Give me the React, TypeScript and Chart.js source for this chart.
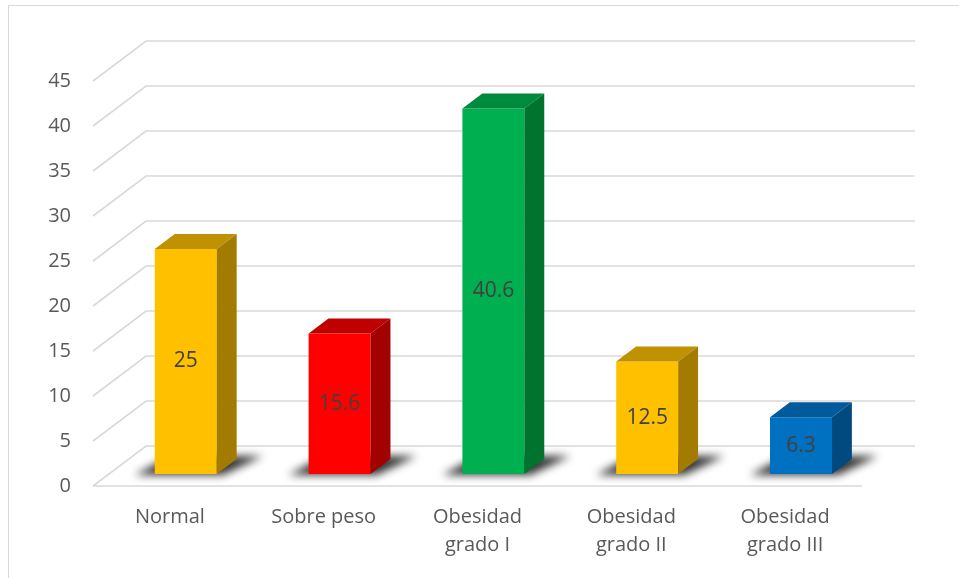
import React, { useEffect, useRef } from "react";
import { Chart, registerables } from "chart.js";

Chart.register(...registerables);

// ---- data ----
const categories: string[][] = [
  ["Normal"],
  ["Sobre peso"],
  ["Obesidad", "grado I"],
  ["Obesidad", "grado II"],
  ["Obesidad", "grado III"],
];
const values: number[] = [25, 15.6, 40.6, 12.5, 6.3];
const valueLabels: string[] = ["25", "15.6", "40.6", "12.5", "6.3"];
const yMin = 0;
const yMax = 45;
const yStep = 5;

// ---- styles ----
const frontColors = ["#FFC000", "#FF0000", "#00B050", "#FFC000", "#0070C0"];
const topColors = ["#C09100", "#C00000", "#008A3D", "#C09100", "#005A9C"];
const sideColors = ["#A37B00", "#A30000", "#00732F", "#A37B00", "#004A80"];

const FONT = "'Open Sans', 'DejaVu Sans', sans-serif";
const GRID = "#d9d9d9";
// 3D geometry (px)
const WALL_DX = 53;
const WALL_DY = -40;
const BAR_FRONT = 0.3; // depth fraction of bar front face
const BAR_DEPTH = 0.375; // depth fraction of bar thickness

const threeD = {
  id: "threeD",
  beforeDraw(chart: any) {
    const ctx = chart.ctx;
    ctx.save();
    ctx.fillStyle = "#ffffff";
    ctx.fillRect(0, 0, chart.width, chart.height);
    ctx.strokeStyle = GRID;
    ctx.lineWidth = 1;
    ctx.strokeRect(8.5, 5.5, 2000, 2000);
    ctx.restore();
  },
  beforeDatasetsDraw(chart: any) {
    const ctx = chart.ctx;
    const y = chart.scales.y;
    const area = chart.chartArea;
    ctx.save();
    ctx.strokeStyle = GRID;
    ctx.lineWidth = 1.6;
    for (let v = yMin; v <= yMax; v += yStep) {
      const py = y.getPixelForValue(v);
      ctx.beginPath();
      ctx.moveTo(area.left, py);
      ctx.lineTo(area.left + WALL_DX, py + WALL_DY);
      ctx.lineTo(area.right + WALL_DX, py + WALL_DY);
      ctx.stroke();
    }
    ctx.restore();

    // shadows
    const meta = chart.getDatasetMeta(0);
    const ox = WALL_DX * BAR_FRONT;
    const oy = WALL_DY * BAR_FRONT;
    const dx = WALL_DX * BAR_DEPTH;
    const dy = WALL_DY * BAR_DEPTH;
    ctx.save();
    ctx.filter = "blur(4px)";
    ctx.fillStyle = "rgba(0,0,0,0.8)";
    meta.data.forEach((el: any) => {
      const p = el.getProps(["x", "y", "base", "width"], true);
      const l = p.x - p.width / 2 + ox;
      const r = p.x + p.width / 2 + ox;
      const b = p.base + oy;
      ctx.beginPath();
      ctx.moveTo(l - 20, b + 1);
      ctx.lineTo(r + 6, b + 1);
      ctx.lineTo(r + dx + 26, b + dy - 3);
      ctx.lineTo(l + dx - 4, b + dy - 3);
      ctx.closePath();
      ctx.fill();
    });
    ctx.restore();

    // front floor line
    const p0 = y.getPixelForValue(0);
    ctx.save();
    ctx.strokeStyle = GRID;
    ctx.lineWidth = 1.6;
    ctx.beginPath();
    ctx.moveTo(area.left, p0);
    ctx.lineTo(area.right, p0);
    ctx.stroke();
    ctx.restore();

    ctx.save();
    ctx.translate(ox, oy);
  },
  afterDatasetsDraw(chart: any) {
    const ctx = chart.ctx;
    ctx.restore();
    const meta = chart.getDatasetMeta(0);
    const ox = WALL_DX * BAR_FRONT;
    const oy = WALL_DY * BAR_FRONT;
    const dx = WALL_DX * BAR_DEPTH;
    const dy = WALL_DY * BAR_DEPTH;
    ctx.save();
    meta.data.forEach((el: any, i: number) => {
      const p = el.getProps(["x", "y", "base", "width"], true);
      const l = p.x - p.width / 2 + ox;
      const r = p.x + p.width / 2 + ox;
      const t = p.y + oy;
      const b = p.base + oy;
      // top
      ctx.fillStyle = topColors[i];
      ctx.beginPath();
      ctx.moveTo(l, t);
      ctx.lineTo(r, t);
      ctx.lineTo(r + dx, t + dy);
      ctx.lineTo(l + dx, t + dy);
      ctx.closePath();
      ctx.fill();
      // side
      ctx.fillStyle = sideColors[i];
      ctx.beginPath();
      ctx.moveTo(r, t);
      ctx.lineTo(r + dx, t + dy);
      ctx.lineTo(r + dx, b + dy);
      ctx.lineTo(r, b);
      ctx.closePath();
      ctx.fill();
      // label
      ctx.fillStyle = "#404040";
      ctx.font = `21px ${FONT}`;
      ctx.textAlign = "center";
      ctx.textBaseline = "middle";
      ctx.fillText(valueLabels[i], (l + r) / 2, (t + b) / 2);
    });
    ctx.restore();
  },
};

export default function App() {
  const ref = useRef<HTMLCanvasElement | null>(null);
  useEffect(() => {
    document.body.style.margin = "0";
    const canvas = ref.current;
    if (!canvas) return;
    const chart = new Chart(canvas, {
      type: "bar",
      data: {
        labels: categories as any,
        datasets: [
          {
            data: values,
            backgroundColor: frontColors,
            borderWidth: 0,
            categoryPercentage: 1,
            barPercentage: 0.403,
          },
        ],
      },
      options: {
        responsive: false,
        animation: false,
        devicePixelRatio: 1,
        layout: { padding: { left: 0, right: 97, top: 81, bottom: 0 } },
        plugins: {
          legend: { display: false },
          tooltip: { enabled: false },
          title: { display: false },
        },
        scales: {
          x: {
            grid: { display: false, drawTicks: false },
            border: { display: false },
            ticks: {
              color: "#595959",
              font: { family: FONT, size: 20, lineHeight: 1.4 },
              padding: 17,
              maxRotation: 0,
              autoSkip: false,
            },
            afterFit: (s: any) => {
              s.height = 92;
            },
          },
          y: {
            min: yMin,
            max: yMax,
            grid: { display: false, drawTicks: false },
            border: { display: false },
            ticks: {
              stepSize: yStep,
              color: "#595959",
              font: { family: FONT, size: 20 },
              padding: 22,
            },
            afterFit: (s: any) => {
              s.width = 93;
            },
          },
        },
      },
      plugins: [threeD],
    });
    return () => chart.destroy();
  }, []);
  return (
    <div style={{ position: "relative", width: 959, height: 578, background: "#fff" }}>
      <canvas
        ref={ref}
        width={959}
        height={578}
        style={{ position: "absolute", left: 0, top: 0, width: 959, height: 578, display: "block" }}
      />
    </div>
  );
}
